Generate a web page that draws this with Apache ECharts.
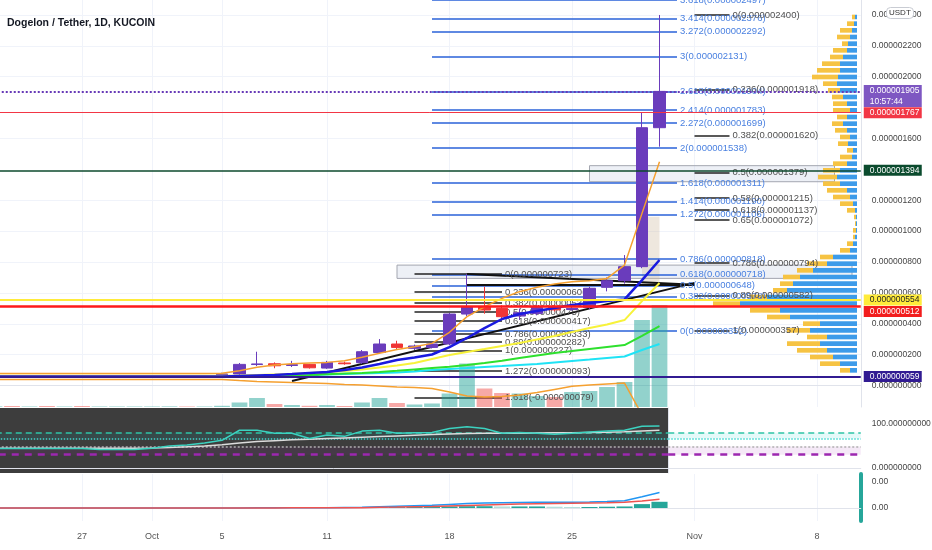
<!DOCTYPE html>
<html>
<head>
<meta charset="utf-8">
<title>Dogelon / Tether, 1D, KUCOIN</title>
<script src="https://cdn.jsdelivr.net/npm/echarts@6/dist/echarts.min.js"></script>
<style>
html, body { margin: 0; padding: 0; background: #fff; }
#main { width: 932px; height: 550px; }
</style>
</head>
<body>
<div id="main"></div>
<script>
// daily categories (Sep 22 .. Nov 10), prices are in units of 1e-9 USDT
var days = ['09-22','09-23','09-24','09-25','09-26','09-27','09-28','09-29','09-30',
  '10-01','10-02','10-03','10-04','10-05','10-06','10-07','10-08','10-09','10-10',
  '10-11','10-12','10-13','10-14','10-15','10-16','10-17','10-18','10-19','10-20',
  '10-21','10-22','10-23','10-24','10-25','10-26','10-27','10-28','10-29','10-30','10-31',
  '11-01','11-02','11-03','11-04','11-05','11-06','11-07','11-08','11-09','11-10'];
var tickDays = ['09-27','10-01','10-05','10-11','10-18','10-25','11-01','11-08'];
var priceTicks = [0, 200, 400, 600, 800, 1000, 1200, 1600, 2000, 2200, 2400];

var open  = [57,58,56,58,57,58,57,58,58.5,59,60,61,60,62,
  75,136,141,130,137,113,146,148,214,269,241,247,269,463,507,500,450,467,508,492,505,636,679,770,1670];
var close = [58,57,58,57,58,57,58,58.5,59,60,61,60,62,75,
  137,140,128,135,115,150,141,219,269,247,256,269,463,510,489,446,472,506,490,500,630,679,770,1670,1905];
var low   = [55,54,55,55,56,55,56,56,57,57,58,58,59,60,
  62,126,112,120,110,108,135,140,205,235,230,240,262,450,465,430,425,455,480,485,495,610,660,760,1547];
var high  = [60,59,60,60,60,59,60,60,61,62,63,63,64,83,
  146,219,150,160,140,160,155,230,301,290,265,280,470,723,640,520,498,520,525,515,640,700,845,1765,2400];
var volume = [0.6,1,0.5,1,0.5,1,0.5,0.5,0.5,0.5,0.6,0.5,0.5,1.2,
  4.5,9,3,2,1.2,2,1,4.5,9,4,2.5,3.5,13.5,43.5,18.5,14,13.5,11,10,15,16,20,25,87,102];

var bandUpper = [78,78,78,78,78,78,78,78,78,78,78,78,78,79,
  96,118,133,141,146,150,161,183,209,234,251,273,345,446,510,565,608,636,657,672,679,694,780,1115,1450];
var bandLower = [39,39,39,39,39,39,39,39,39,39,39,39,39,39,
  32,26,23,19,16,13,6,3,-3,-10,-13,-19,-42,-68,-74,-71,-62,-45,-25,-5,3,10,16,-190,-400];
var maBlue = [58,58,58,58,58,58,58,58,58,58,58,58,58,58,
  62,65,68,74,81,87,100,117,139,165,181,201,249,308,372,431,463,483,502,521,534,547,558,683,813];
var maYellow = [64,64,64,64,64,64,64,64,64,64,64,64,64,64,
  65,68,71,74,81,87,94,104,117,130,146,172,198,217,236,256,275,298,321,347,372,395,424,547,664];
var maGreen = [62,62,62,62,62,62,62,62,62,62,62,62,62,62,
  62,63,65,66,68,73,78,82,87,95,104,113,122,133,146,161,178,194,210,223,236,249,262,321,385];
var maCyan = [58,58,58,58,58,58,58,58,58,58,58,58,58,58,
  62,63,64,65,68,71,74,78,81,85,91,100,107,113,120,126,133,139,149,159,168,178,188,230,269];

var rsi = [44,44,44,44,44,44,42,42,42,45,50,52,57,63,
  86,86,79,79,67,75,72,84,86,79,80,81,90,94,90,79,81,79,77,79,82,84,86,95,96];
var rsiMa = [45,45,45,45,45,45,45,45,45,45.5,46.5,48,50,53,
  57,60,62,64,65.5,67,68.5,70,71.5,73,74.5,76,77.5,78.5,79,79,79,79.5,80,80.5,81,81.5,82.5,84.5,86];
var rsiLevels = [80, 67, 48.5, 30];

var macd = [0,0,0,0,0,0,0,0,0,0,0,0,0,0,
  0.5,1,1,1,1,1,2,3,5,7,9,11,14,17,19,20,21,22,22,22,23,25,28,43,60];
var signal = [0,0,0,0,0,0,0,0,0,0,0,0,0,0,
  0.2,0.4,0.5,0.6,0.6,0.7,1,1.5,2.5,3.5,5,6,8,10,12,14,15,16,17,18,19,20,22,27,34];
var hist = [0,0,0,0,0,0,0,0,0,0,0,0,0,0,
  0.3,0.6,0.5,0.4,0.4,0.3,1,1.5,2.5,3.5,4,5,6,7,7,6,6,6,5,4,4,5,6,15,24];

// visible range volume profile, rows from top (high price) to bottom
var vpUp   = [2,3,5,7,9,10,14,17,17,19,20,17,14,10,7,10,14,10,7,9,4,5,10,17,20,17,10,7,4,2,1,1,1,2,4,7,
  24,30,44,57,64,70,90,117,77,67,37,47,30,37,30,24,17,7];
var vpDown = [3,7,12,13,6,14,13,18,23,26,14,12,11,14,17,10,11,12,10,10,6,12,14,17,19,17,20,17,13,8,2,1,3,2,6,10,
  13,20,16,17,13,14,17,27,30,23,17,23,20,33,30,23,20,10];

// fib drawings
var blueFibLevels = ['0','0.382','0.5','0.618','0.786','1.272','1.414','1.618','2','2.272','2.414','2.618','3','3.272','3.414','3.618'];
var blueFibPrices = [352,578,648,718,818,1106,1190,1311,1538,1699,1783,1904,2131,2292,2376,2497];
var fibALevels = ['0','0.236','0.382','0.5','0.618','0.786','0.89','1','1.272','1.618'];
var fibAPrices = [723,606,534,475,417,333,282,227,93,-79];
var fibBLevels = ['0','0.236','0.382','0.5','0.58','0.618','0.65','0.786','0.89','1'];
var fibBPrices = [2400,1918,1620,1379,1215,1137,1072,794,582,357];

// trend lines [fromDay, fromPrice, toDay, toPrice]
var trendLines = [['10-09', 29, '11-01', 665], ['10-19', 723, '11-01', 652], ['10-19', 655, '11-01', 655]];
// boxes [fromDay, topPrice, toDay, bottomPrice]
var boxes = [['10-15', 780, '11-10', 694], ['10-26', 1424, '11-09', 1320]];
var ghostBox = ['10-29', 1093, '10-30', 640];

// horizontal price levels
var levelPrices = [59, 512, 554, 1394, 1767, 1905];

function fmt9(v) { return (v * 1e-9).toFixed(9); }

var UP = '#6a3cbc', DOWN = '#ef3535';
var axisFont = 'Liberation Sans, Arial, sans-serif';

var candles = open.map(function (o, i) { return [o, close[i], low[i], high[i]]; });

function fibLines(levels, prices, from, to, lineColor, textColor) {
  return levels.map(function (lv, i) {
    return [
      { coord: [from, prices[i]],
        lineStyle: { color: lineColor, width: 1.5, type: 'solid' },
        label: { show: true, position: 'end', distance: 3, formatter: lv + '(' + fmt9(prices[i]) + ')',
          color: textColor, fontSize: 9.5, fontFamily: axisFont } },
      { coord: [to, prices[i]] }
    ];
  });
}

var drawLines = []
  .concat(fibLines(blueFibLevels, blueFibPrices, '10-17', '10-31', '#2a62d8', '#4a80e0'))
  .concat(fibLines(fibALevels, fibAPrices, '10-16', '10-21', '#222', '#505050'))
  .concat(fibLines(fibBLevels, fibBPrices, '11-01', '11-03', '#222', '#505050'))
  .concat(trendLines.map(function (t) {
    return [{ coord: [t[0], t[1]], lineStyle: { color: '#111', width: 2, type: 'solid' }, label: { show: false } },
            { coord: [t[2], t[3]] }];
  }));

var boxAreas = boxes.map(function (b) {
  return [{ coord: [b[0], b[1]], itemStyle: { color: 'rgba(175,185,215,0.22)', borderColor: '#a3a6b0', borderWidth: 1 } },
          { coord: [b[2], b[3]] }];
});
boxAreas.push([{ coord: [ghostBox[0], ghostBox[1]], itemStyle: { color: 'rgba(205,185,160,0.35)' } },
               { coord: [ghostBox[2], ghostBox[3]] }]);

// axis tags; "shift" pushes a tag below its line, as TradingView does to avoid overlaps
var levelStyles = [
  { line: '#311b92', width: 2, type: 'solid', bg: '#311b92', text: '#fff', shift: 0 },
  { line: '#ff1a1a', width: 2.5, type: 'solid', bg: '#f21d1d', text: '#fff', shift: 10 },
  { line: '#ffeb3b', width: 2, type: 'solid', bg: '#ffeb3b', text: '#222', shift: 0 },
  { line: '#0c4a2d', width: 1.5, type: 'solid', bg: '#0b4b2e', text: '#fff', shift: 0 },
  { line: '#f23645', width: 1, type: 'solid', bg: '#f23645', text: '#fff', shift: 0 },
  { line: '#673ab7', width: 2, type: 'dotted', bg: '#7e57c2', text: '#fff', shift: 9 }
];
var levelLines = levelPrices.map(function (p, i) {
  var s = levelStyles[i];
  var txt = '{t|' + fmt9(p) + '}' + (i === levelPrices.length - 1 ? '\n{t|10:57:44}' : '');
  if (s.shift) txt = '{sp|}\n' + txt;
  return { yAxis: p, lineStyle: { color: s.line, width: s.width, type: s.type },
    label: { show: true, position: 'end', distance: 3, formatter: txt,
      rich: {
        sp: { height: s.shift, lineHeight: s.shift },
        t: { color: s.text, backgroundColor: s.bg, fontSize: 8.5, fontFamily: axisFont,
          height: 11, lineHeight: 11, width: 46, padding: [0, 6] }
      } } };
});

var gridLines = priceTicks.map(function (p) {
  return { yAxis: p, lineStyle: { color: '#f0f3fa', width: 1, type: 'solid' }, label: { show: false } };
}).concat(tickDays.map(function (d) {
  return { xAxis: d, lineStyle: { color: '#f0f3fa', width: 1, type: 'solid' }, label: { show: false } };
}));

var rsiStyles = [
  { color: '#2fc4a6', type: [6, 4], width: 1.5 },
  { color: '#3fd6d0', type: 'dotted', width: 1.5 },
  { color: '#b0b0b0', type: [2, 2], width: 1.5 },
  { color: '#9c27b0', type: [7, 6], width: 2.5 }
];
var rsiMarkLine = {
  symbol: 'none', silent: true, z: 3,
  data: rsiLevels.map(function (v, i) {
    var s = rsiStyles[i];
    return { yAxis: v, lineStyle: { color: s.color, type: s.type, width: s.width }, label: { show: false } };
  })
};
var rsiMarkArea = {
  silent: true,
  data: [
    [{ yAxis: rsiLevels[1], itemStyle: { color: 'rgba(0,200,200,0.1)' } }, { yAxis: rsiLevels[0] }],
    [{ yAxis: rsiLevels[3], itemStyle: { color: 'rgba(156,39,176,0.1)' } }, { yAxis: rsiLevels[2] }]
  ]
};

var sepLine = { show: true, lineStyle: { color: '#e0e3eb', width: 1 } };
var axisLabelStyle = { fontSize: 8.5, color: '#444', margin: 11, fontFamily: axisFont };

var option = {
  animation: false,
  backgroundColor: '#fff',
  title: [
    { text: 'Dogelon / Tether, 1D, KUCOIN', left: 2, top: 13,
      textStyle: { fontSize: 10.5, fontWeight: 'bold', color: '#131722', fontFamily: axisFont } },
    { text: 'USDT', left: 886, top: 7, padding: [2, 3], backgroundColor: '#fff', borderColor: '#c9ccd3',
      borderWidth: 1, borderRadius: 4, textStyle: { fontSize: 8, fontWeight: 'normal', color: '#333', fontFamily: axisFont } }
  ],
  grid: [
    { left: -14.25, right: 71.25, top: 0, height: 407, outerBoundsMode: 'none' },
    { left: 650, right: 75, top: 13.67, height: 360, outerBoundsMode: 'none' },
    { left: -14.25, right: 263.75, top: 408, height: 65, show: true, backgroundColor: '#3d3d3d', borderWidth: 0, outerBoundsMode: 'none' },
    { left: 668.25, right: 71.25, top: 408, height: 65, outerBoundsMode: 'none' },
    { left: -14.25, right: 71.25, top: 474, height: 47, outerBoundsMode: 'none' }
  ],
  xAxis: [
    { type: 'category', gridIndex: 0, data: days, axisLine: sepLine, axisTick: { show: false },
      axisLabel: { show: false }, splitLine: { show: false } },
    { type: 'value', gridIndex: 1, inverse: true, min: 0, max: 207, show: false },
    { type: 'category', gridIndex: 2, data: days.slice(0, 39), axisLine: sepLine, axisTick: { show: false },
      axisLabel: { show: false }, splitLine: { show: false } },
    { type: 'value', gridIndex: 3, min: 0, max: 1, axisLine: sepLine, axisTick: { show: false },
      axisLabel: { show: false }, splitLine: { show: false } },
    { type: 'category', gridIndex: 4, data: days, axisLine: sepLine, axisTick: { show: false },
      splitLine: { show: false },
      axisLabel: { margin: 11, fontSize: 9, color: '#555', fontFamily: axisFont,
        interval: function (idx, val) { return tickDays.indexOf(val) >= 0; },
        formatter: function (val) {
          if (val === '10-01') return 'Oct';
          if (val === '11-01') return 'Nov';
          return String(parseInt(val.slice(3), 10));
        } } }
  ],
  yAxis: [
    { type: 'value', gridIndex: 0, position: 'right', min: -139, max: 2497,
      axisLine: { show: true, lineStyle: { color: '#e0e3eb' } }, axisTick: { show: false }, splitLine: { show: false },
      axisLabel: Object.assign({ customValues: priceTicks, formatter: fmt9 }, axisLabelStyle) },
    { type: 'value', gridIndex: 0, min: 0, max: 407, show: false },
    { type: 'category', gridIndex: 1, inverse: true, data: vpUp.map(function (v, i) { return 'r' + i; }), show: false },
    { type: 'value', gridIndex: 2, min: -12, max: 137, show: false },
    { type: 'value', gridIndex: 3, position: 'right', min: -12, max: 137,
      axisLine: { show: true, lineStyle: { color: '#e0e3eb' } }, axisTick: { show: false }, splitLine: { show: false },
      axisLabel: Object.assign({ customValues: [0, 100], formatter: function (v) { return v.toFixed(9); } }, axisLabelStyle) },
    { type: 'value', gridIndex: 4, position: 'right', min: -50, max: 131,
      axisLine: { show: true, lineStyle: { color: '#26a69a', width: 4 } }, axisTick: { show: false }, splitLine: { show: false },
      axisLabel: Object.assign({ customValues: [0, 100], formatter: function (v) { return (v * 1e-9).toFixed(2); } }, axisLabelStyle) }
  ],
  series: [
    { name: 'grid', type: 'line', xAxisIndex: 0, yAxisIndex: 0, data: [], z: 0,
      markLine: { symbol: 'none', silent: true, z: 0, data: gridLines } },
    { name: 'Volume', type: 'bar', xAxisIndex: 0, yAxisIndex: 1, data: volume, barCategoryGap: '10%', z: 1,
      itemStyle: { color: function (p) {
        return close[p.dataIndex] >= open[p.dataIndex] ? 'rgba(38,166,154,0.5)' : 'rgba(239,83,80,0.5)';
      } } },
    { name: 'drawings', type: 'line', xAxisIndex: 0, yAxisIndex: 0, data: [], z: 1,
      markLine: { symbol: 'none', silent: true, z: 1, data: drawLines },
      markArea: { silent: true, z: 1, data: boxAreas } },
    { name: 'VP up', type: 'bar', xAxisIndex: 1, yAxisIndex: 2, stack: 'vp', data: vpUp,
      barCategoryGap: '30%', itemStyle: { color: '#3d9be9' }, z: 1 },
    { name: 'VP down', type: 'bar', xAxisIndex: 1, yAxisIndex: 2, stack: 'vp', data: vpDown,
      barCategoryGap: '30%', itemStyle: { color: '#f6c343' }, z: 1 },
    { name: 'DOGELON', type: 'candlestick', xAxisIndex: 0, yAxisIndex: 0, data: candles, barWidth: '68%', z: 2,
      itemStyle: { color: UP, color0: DOWN, borderColor: UP, borderColor0: DOWN, borderWidth: 1 } },
    { name: 'BB upper', type: 'line', xAxisIndex: 0, yAxisIndex: 0, data: bandUpper, showSymbol: false, z: 3,
      lineStyle: { color: '#f5a030', width: 1.5 } },
    { name: 'BB lower', type: 'line', xAxisIndex: 0, yAxisIndex: 0, data: bandLower, showSymbol: false, z: 3,
      lineStyle: { color: '#f5a030', width: 1.5 } },
    { name: 'MA cyan', type: 'line', xAxisIndex: 0, yAxisIndex: 0, data: maCyan, showSymbol: false, z: 3,
      lineStyle: { color: '#1fe3f5', width: 2 } },
    { name: 'MA green', type: 'line', xAxisIndex: 0, yAxisIndex: 0, data: maGreen, showSymbol: false, z: 3,
      lineStyle: { color: '#2ee02e', width: 2 } },
    { name: 'MA yellow', type: 'line', xAxisIndex: 0, yAxisIndex: 0, data: maYellow, showSymbol: false, z: 3,
      lineStyle: { color: '#f7f23a', width: 2 } },
    { name: 'MA blue', type: 'line', xAxisIndex: 0, yAxisIndex: 0, data: maBlue, showSymbol: false, z: 3,
      lineStyle: { color: '#1a1adf', width: 2.5 } },
    { name: 'levels', type: 'line', xAxisIndex: 0, yAxisIndex: 0, data: [], z: 4,
      markLine: { symbol: 'none', silent: true, z: 6, data: levelLines } },
    { name: 'RSI', type: 'line', xAxisIndex: 2, yAxisIndex: 3, data: rsi, showSymbol: false, z: 4,
      lineStyle: { color: '#3cd2c0', width: 1.5 }, markLine: rsiMarkLine, markArea: rsiMarkArea },
    { name: 'RSI MA', type: 'line', xAxisIndex: 2, yAxisIndex: 3, data: rsiMa, showSymbol: false, z: 3,
      lineStyle: { color: '#dcdcdc', width: 1.5 } },
    { name: 'RSI levels', type: 'line', xAxisIndex: 3, yAxisIndex: 4, data: [],
      markLine: rsiMarkLine, markArea: rsiMarkArea },
    { name: 'Histogram', type: 'bar', xAxisIndex: 4, yAxisIndex: 5, data: hist, barCategoryGap: '8%', z: 2,
      itemStyle: { color: function (p) {
        var i = p.dataIndex;
        return i > 0 && hist[i] < hist[i - 1] ? '#b2dfdb' : '#26a69a';
      } },
      markLine: { symbol: 'none', silent: true, z: 0,
        data: tickDays.map(function (d) {
          return { xAxis: d, lineStyle: { color: '#f0f3fa', width: 1, type: 'solid' }, label: { show: false } };
        }) } },
    { name: 'MACD', type: 'line', xAxisIndex: 4, yAxisIndex: 5, data: macd, showSymbol: false, z: 3,
      lineStyle: { color: '#2196f3', width: 1.5 } },
    { name: 'Signal', type: 'line', xAxisIndex: 4, yAxisIndex: 5, data: signal, showSymbol: false, z: 3,
      lineStyle: { color: '#ef5350', width: 1.5 } }
  ]
};

var chart = echarts.init(document.getElementById('main'));
chart.setOption(option);
</script>
</body>
</html>
